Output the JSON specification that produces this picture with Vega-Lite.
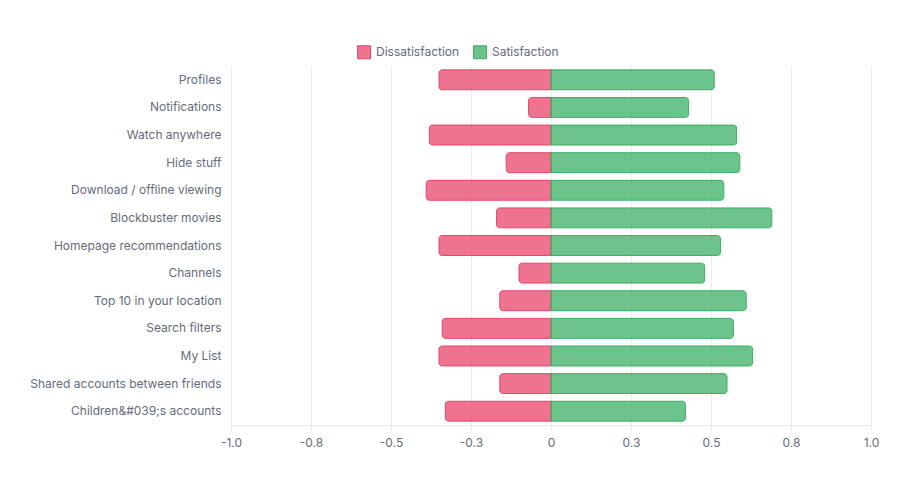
{
  "$schema": "https://vega.github.io/schema/vega-lite/v6.json",
  "width": 640,
  "height": 359,
  "autosize": {"type": "none"},
  "padding": {"left": 231, "top": 66, "right": 44, "bottom": 61},
  "background": "white",
  "config": {
    "view": {"stroke": null},
    "font": "Inter",
    "axis": {"labelFont": "Inter", "labelColor": "#666b78", "labelFontSize": 12},
    "legend": {"labelFont": "Inter", "labelColor": "#666b78", "labelFontSize": 12}
  },
  "data": {
    "values": [
      {"feature": "Profiles", "measure": "Dissatisfaction", "value": -0.35},
      {"feature": "Profiles", "measure": "Satisfaction", "value": 0.51},
      {"feature": "Notifications", "measure": "Dissatisfaction", "value": -0.07},
      {"feature": "Notifications", "measure": "Satisfaction", "value": 0.43},
      {"feature": "Watch anywhere", "measure": "Dissatisfaction", "value": -0.38},
      {"feature": "Watch anywhere", "measure": "Satisfaction", "value": 0.58},
      {"feature": "Hide stuff", "measure": "Dissatisfaction", "value": -0.14},
      {"feature": "Hide stuff", "measure": "Satisfaction", "value": 0.59},
      {"feature": "Download / offline viewing", "measure": "Dissatisfaction", "value": -0.39},
      {"feature": "Download / offline viewing", "measure": "Satisfaction", "value": 0.54},
      {"feature": "Blockbuster movies", "measure": "Dissatisfaction", "value": -0.17},
      {"feature": "Blockbuster movies", "measure": "Satisfaction", "value": 0.69},
      {"feature": "Homepage recommendations", "measure": "Dissatisfaction", "value": -0.35},
      {"feature": "Homepage recommendations", "measure": "Satisfaction", "value": 0.53},
      {"feature": "Channels", "measure": "Dissatisfaction", "value": -0.10},
      {"feature": "Channels", "measure": "Satisfaction", "value": 0.48},
      {"feature": "Top 10 in your location", "measure": "Dissatisfaction", "value": -0.16},
      {"feature": "Top 10 in your location", "measure": "Satisfaction", "value": 0.61},
      {"feature": "Search filters", "measure": "Dissatisfaction", "value": -0.34},
      {"feature": "Search filters", "measure": "Satisfaction", "value": 0.57},
      {"feature": "My List", "measure": "Dissatisfaction", "value": -0.35},
      {"feature": "My List", "measure": "Satisfaction", "value": 0.63},
      {"feature": "Shared accounts between friends", "measure": "Dissatisfaction", "value": -0.16},
      {"feature": "Shared accounts between friends", "measure": "Satisfaction", "value": 0.55},
      {"feature": "Children&#039;s accounts", "measure": "Dissatisfaction", "value": -0.33},
      {"feature": "Children&#039;s accounts", "measure": "Satisfaction", "value": 0.42}
    ]
  },
  "encoding": {
    "y": {
      "field": "feature",
      "type": "nominal",
      "sort": null,
      "title": null,
      "scale": {"paddingInner": 0.28, "paddingOuter": 0.14},
      "axis": {"ticks": false, "domain": false, "grid": false, "labelPadding": 10, "labelLimit": 400}
    }
  },
  "layer": [
    {
      "transform": [{"filter": "datum.measure == 'Dissatisfaction'"}],
      "mark": {"type": "bar", "fillOpacity": 0.75, "strokeWidth": 1, "cornerRadiusTopLeft": 3, "cornerRadiusBottomLeft": 3},
      "encoding": {
        "x": {
          "field": "value",
          "type": "quantitative",
          "title": null,
          "scale": {"domain": [-1, 1], "nice": false},
          "axis": {
            "values": [-1, -0.75, -0.5, -0.25, 0, 0.25, 0.5, 0.75, 1],
            "labelExpr": "datum.value == 0 ? '0' : replace(format(datum.value, '.1f'), '\u2212', '-')",
            "labelFlush": false,
            "gridColor": "#ebebeb",
            "tickColor": "#ebebeb",
            "tickSize": 6,
            "domainColor": "#e6e6e6",
            "labelPadding": 6
          }
        },
        "x2": {"datum": 0},
        "fill": {
          "field": "measure",
          "type": "nominal",
          "title": null,
          "scale": {"domain": ["Dissatisfaction", "Satisfaction"], "range": ["#e8446a", "#3caf66"]},
          "legend": {
            "orient": "none",
            "legendX": 126,
            "legendY": -21,
            "direction": "horizontal",
            "symbolType": "square",
            "symbolSize": 169,
            "symbolStrokeWidth": 1,
            "labelOffset": 5,
            "columnPadding": 11,
            "encode": {"symbols": {"update": {"fillOpacity": {"value": 0.75}}}}
          }
        },
        "stroke": {
          "field": "measure",
          "type": "nominal",
          "title": null,
          "scale": {"domain": ["Dissatisfaction", "Satisfaction"], "range": ["#e8446a", "#3aae63"]}
        }
      }
    },
    {
      "transform": [{"filter": "datum.measure == 'Satisfaction'"}],
      "mark": {"type": "bar", "fillOpacity": 0.75, "strokeWidth": 1, "cornerRadiusTopRight": 3, "cornerRadiusBottomRight": 3},
      "encoding": {
        "x": {"field": "value", "type": "quantitative"},
        "x2": {"datum": 0},
        "fill": {"field": "measure", "type": "nominal"},
        "stroke": {"field": "measure", "type": "nominal"}
      }
    },
    {
      "mark": {"type": "rule", "color": "#c4c4c4", "strokeWidth": 1},
      "encoding": {"x": {"datum": 0}}
    }
  ]
}
